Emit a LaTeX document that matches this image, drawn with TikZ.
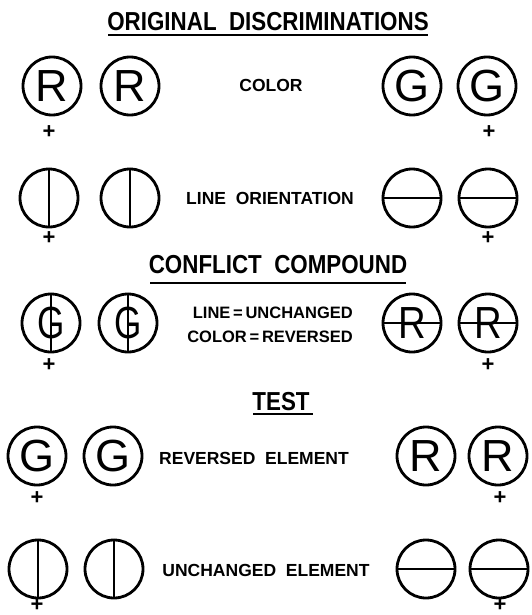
\documentclass[tikz,border=0pt]{standalone}
\usepackage{fontspec}
\setmainfont{Liberation Sans}
\newfontfamily\titlef{Liberation Sans}[FakeStretch=0.86]
\newfontfamily\labf{Liberation Sans}
\begin{document}
\begin{tikzpicture}[x=1pt,y=-1pt,
  ring/.style={circle, draw, line width=2.8pt, minimum size=58pt, inner sep=0pt},
  letter/.style={font=\fontsize{45}{45}\selectfont},
  title/.style={font=\titlef\bfseries\fontsize{26}{26}\selectfont, inner sep=0pt},
  lab/.style={font=\labf\bfseries\fontsize{17.5}{17.5}\selectfont, inner sep=0pt},
  lab2/.style={font=\labf\bfseries\fontsize{16.5}{16.5}\selectfont, inner sep=0pt, anchor=east},
  plus/.style={font=\labf\bfseries\fontsize{22}{22}\selectfont, inner sep=0pt},
  bar/.style={line width=2.4pt},
  uline/.style={line width=2.4pt}]
\useasboundingbox (0,0) rectangle (531,615);

% ---- title 1
\node[title] (t1) at (268,22) {ORIGINAL\ \ DISCRIMINATIONS};
\coordinate (u1a) at (108,35); \coordinate (u1b) at (428,35);
\draw[uline] (u1a) -- (u1b);

% ---- row 1 colour
\node[ring,letter] (a1) at (52,86) {R};
\node[ring,letter] (a2) at (130,86) {R};
\node[lab] (la) at (271,85) {COLOR};
\node[ring,letter] (a3) at (412,86) {G};
\node[ring,letter] (a4) at (487,86) {G};
\node[plus] (pa1) at (49,132) {+};
\node[plus] (pa4) at (489,132) {+};

% ---- row 2 line orientation
\node[ring] (b1) at (49,198) {};
\node[ring] (b2) at (130,198) {};
\node[lab] (lb) at (270,198) {LINE\ \ ORIENTATION};
\node[ring] (b3) at (412,198) {};
\node[ring] (b4) at (488,198) {};
\draw[bar] (b1.north) -- (b1.south);
\draw[bar] (b2.north) -- (b2.south);
\draw[bar] (b3.west) -- (b3.east);
\draw[bar] (b4.west) -- (b4.east);
\node[plus] (pb1) at (49,238) {+};
\node[plus] (pb4) at (488,238) {+};

% ---- title 2
\node[title] (t2) at (278,265) {CONFLICT\ \ COMPOUND};
\coordinate (u2a) at (150,283); \coordinate (u2b) at (406,283);
\draw[uline] (u2a) -- (u2b);

% ---- row 3 conflict compound
\node[ring] (c1) at (51,323) {};
\node[ring] (c2) at (128,323) {};
\node[letter] at (c1) {\scalebox{0.78}[1]{G}};
\node[letter] at (c2) {\scalebox{0.78}[1]{G}};
\draw[bar] (c1.north) -- (c1.south);
\draw[bar] (c2.north) -- (c2.south);
\node[lab2] (lc1) at (353,313) {LINE\,=\,UNCHANGED};
\node[lab2] (lc2) at (353,337) {COLOR\,=\,REVERSED};
\node[ring] (c3) at (412,323) {};
\node[ring] (c4) at (488,323) {};
\node[letter] at (c3) {\scalebox{0.85}[1]{R}};
\node[letter] at (c4) {\scalebox{0.85}[1]{R}};
\draw[bar] (c3.west) -- (c3.east);
\draw[bar] (c4.west) -- (c4.east);
\node[plus] (pc1) at (49,365) {+};
\node[plus] (pc4) at (488,365) {+};

% ---- title 3
\node[title] (t3) at (281,402) {TEST};
\coordinate (u3a) at (253,414); \coordinate (u3b) at (313,414);
\draw[uline] (u3a) -- (u3b);

% ---- row 4 reversed element
\node[ring,letter] (d1) at (37,456) {G};
\node[ring,letter] (d2) at (113,456) {G};
\node[lab] (ld) at (254,458) {REVERSED\ \ ELEMENT};
\node[ring,letter] (d3) at (426,456) {R};
\node[ring,letter] (d4) at (498,456) {R};
\node[plus] (pd1) at (37,498) {+};
\node[plus] (pd4) at (500,498) {+};

% ---- row 5 unchanged element
\node[ring] (e1) at (38,569) {};
\node[ring] (e2) at (114,569) {};
\draw[bar] (e1.north) -- (e1.south);
\draw[bar] (e2.north) -- (e2.south);
\node[lab] (le) at (266,570) {UNCHANGED\ \ ELEMENT};
\node[ring] (e3) at (426,569) {};
\node[ring] (e4) at (499,569) {};
\draw[bar] (e3.west) -- (e3.east);
\draw[bar] (e4.west) -- (e4.east);
\node[plus] (pe1) at (37,605) {+};
\node[plus] (pe4) at (500,605) {+};
\end{tikzpicture}
\end{document}
